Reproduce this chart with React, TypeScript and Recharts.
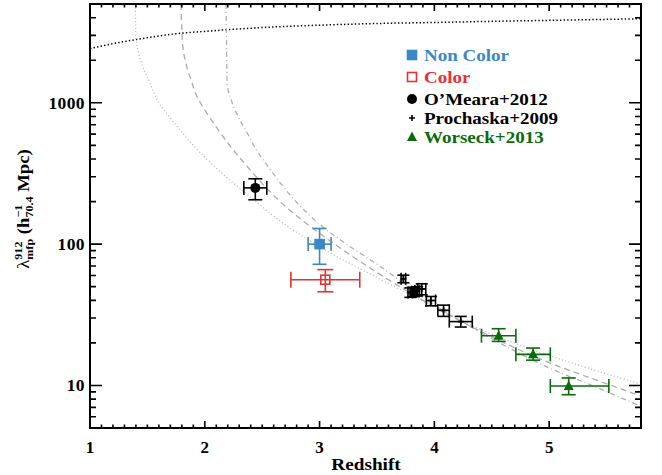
import React from 'react';
import { ComposedChart, Line, Scatter, ErrorBar, XAxis, YAxis } from 'recharts';

const W = 662;
const H = 475;
const FONT = '"Liberation Serif", "Times New Roman", serif';
const MARGIN = { top: 4, right: 21, bottom: 0, left: 0 };
const X_AXIS_H = 47;
const Y_AXIS_W = 90;
const PLOT_TOP = MARGIN.top;
const PLOT_RIGHT = W - MARGIN.right;
const PLOT_LEFT = MARGIN.left + Y_AXIS_W;
const PLOT_BOTTOM = H - MARGIN.bottom - X_AXIS_H;

// model curves: z = redshift, v = mean free path
const topModel = [
  { z: 1.0, v: 2420 }, { z: 1.2, v: 2620 }, { z: 1.4, v: 2800 }, { z: 1.6, v: 2970 },
  { z: 1.8, v: 3110 }, { z: 2.0, v: 3200 }, { z: 2.2, v: 3290 }, { z: 2.6, v: 3440 },
  { z: 3.0, v: 3540 }, { z: 3.5, v: 3640 }, { z: 4.0, v: 3700 }, { z: 4.5, v: 3770 },
  { z: 5.0, v: 3830 }, { z: 5.8, v: 3930 },
];
const dottedModel = [
  { z: 1.395, v: 5000 }, { z: 1.4, v: 2900 }, { z: 1.42, v: 2300 }, { z: 1.46, v: 1800 },
  { z: 1.52, v: 1400 }, { z: 1.57, v: 1110 }, { z: 1.69, v: 800 }, { z: 1.8, v: 620 },
  { z: 1.92, v: 480 }, { z: 2.1, v: 345 }, { z: 2.4, v: 215 }, { z: 2.65, v: 147 },
  { z: 3.0, v: 96 }, { z: 3.5, v: 58 }, { z: 4.0, v: 36 }, { z: 4.4, v: 25 },
  { z: 5.0, v: 16.3 }, { z: 5.4, v: 12.8 }, { z: 5.8, v: 10.2 },
];
const dashedModel = [
  { z: 1.792, v: 5000 }, { z: 1.8, v: 3300 }, { z: 1.806, v: 2650 }, { z: 1.836, v: 1910 },
  { z: 1.88, v: 1455 }, { z: 1.92, v: 1170 }, { z: 2.0, v: 890 }, { z: 2.08, v: 710 },
  { z: 2.2, v: 520 }, { z: 2.35, v: 370 }, { z: 2.47, v: 285 }, { z: 2.67, v: 195 },
  { z: 2.88, v: 141 }, { z: 3.08, v: 107 }, { z: 3.5, v: 63 }, { z: 4.0, v: 36 },
  { z: 4.4, v: 24.2 }, { z: 5.0, v: 14.5 }, { z: 5.4, v: 11 }, { z: 5.8, v: 8.4 },
];
const dashDotModel = [
  { z: 2.185, v: 5000 }, { z: 2.19, v: 2500 }, { z: 2.194, v: 1380 }, { z: 2.23, v: 1050 },
  { z: 2.29, v: 800 }, { z: 2.37, v: 611 }, { z: 2.44, v: 478 }, { z: 2.53, v: 374 },
  { z: 2.77, v: 210 }, { z: 3.0, v: 138 }, { z: 3.25, v: 98 }, { z: 3.5, v: 72 },
  { z: 4.0, v: 37 }, { z: 4.4, v: 23.8 }, { z: 5.0, v: 13.3 }, { z: 5.4, v: 9.8 },
  { z: 5.8, v: 7.1 },
];

// measurements: ex = redshift error, ey = [lower, upper] mfp error
const nonColor = [{ z: 3.0, v: 100, ex: 0.1, ey: [28, 29] }];
const color = [{ z: 3.05, v: 56, ex: 0.3, ey: [10, 10] }];
const omeara = [{ z: 2.44, v: 250, ex: 0.1, ey: [44, 40] }];
const prochaska = [
  { z: 3.73, v: 56.8, ex: 0.02, ey: [3.5, 3.5] },
  { z: 3.79, v: 45.5, ex: 0.02, ey: [3.5, 3.5] },
  { z: 3.82, v: 46, ex: 0.02, ey: [3.5, 3.5] },
  { z: 3.85, v: 46.5, ex: 0.02, ey: [3.5, 3.5] },
  { z: 3.89, v: 48.2, ex: 0.035, ey: [4.4, 4.2] },
  { z: 3.97, v: 39.9, ex: 0.04, ey: [3.3, 2.7] },
  { z: 4.08, v: 34, ex: 0.05, ey: [3.2, 3] },
  { z: 4.23, v: 28.3, ex: 0.1, ey: [2.4, 2.5] },
];
const worseck = [
  { z: 4.56, v: 22.5, ex: 0.15, ey: [2.0, 2.7] },
  { z: 4.86, v: 16.6, ex: 0.15, ey: [1.5, 1.8] },
  { z: 5.17, v: 9.9, ex: [0.16, 0.35], ey: [1.3, 1.4] },
];

const X_DOMAIN = [1, 5.8];
const Y_DOMAIN = [5, 5000];
const xMajor = [1, 2, 3, 4, 5];
const yMajor = [10, 100, 1000];

const BLUE = '#3a88c5';
const RED = '#e53232';
const GREEN = '#0a6b0a';

const xTicks: number[] = [];
for (let i = 0; i <= 48; i++) xTicks.push(Math.round((1 + i * 0.1) * 10) / 10);
const yTicks: number[] = [];
[1, 10, 100, 1000].forEach((d) => {
  for (let m = 1; m <= 9; m++) {
    const t = m * d;
    if (t >= 5 && t <= 5000) yTicks.push(t);
  }
});

const isMajorX = (v: number) => xMajor.includes(v);
const isMajorY = (v: number) => yMajor.includes(v);

// bottom tick also mirrors itself onto the top edge of the frame
const BottomTick = (props: any) => {
  const { x, y, payload } = props;
  const major = isMajorX(payload.value);
  const len = major ? 7 : 3.5;
  const top = y - (PLOT_BOTTOM - PLOT_TOP);
  return (
    <g>
      <path d={`M${x},${y}V${y - len}M${x},${top}V${top + len}`} stroke="#000" strokeWidth={1.6} fill="none" />
      {major && (
        <text x={x} y={y + 25} textAnchor="middle" fontSize={17} fontWeight="bold" fontFamily={FONT}>
          {payload.value}
        </text>
      )}
    </g>
  );
};
// left tick also mirrors itself onto the right edge
const LeftTick = (props: any) => {
  const { x, y, payload } = props;
  const major = isMajorY(payload.value);
  const len = major ? 12 : 6;
  const right = x + (PLOT_RIGHT - PLOT_LEFT);
  return (
    <g>
      <path d={`M${x},${y}H${x + len}M${right},${y}H${right - len}`} stroke="#000" strokeWidth={1.6} fill="none" />
      {major && (
        <text x={x - 5} y={y + 6} textAnchor="end" fontSize={17.5} fontWeight="bold" fontFamily={FONT} letterSpacing={0.4}>
          {payload.value}
        </text>
      )}
    </g>
  );
};

const square = (fill: string, stroke: string) => ({ cx, cy }: any) => (
  <rect x={cx - 4.5} y={cy - 4.5} width={9} height={9} fill={fill} stroke={stroke} strokeWidth={1.6} />
);
const dotShape = ({ cx, cy }: any) => <circle cx={cx} cy={cy} r={5} fill="#000" />;
const plusShape = ({ cx, cy }: any) => (
  <path d={`M${cx - 3},${cy}H${cx + 3}M${cx},${cy - 3}V${cy + 3}`} stroke="#000" strokeWidth={1.6} />
);
const triShape = ({ cx, cy }: any) => (
  <path d={`M${cx},${cy - 5.5}L${cx + 5},${cy + 4}L${cx - 5},${cy + 4}Z`} fill={GREEN} />
);

const legendItems = [
  { label: 'Non Color', color: BLUE, shape: square(BLUE, BLUE), y: 61 },
  { label: 'Color', color: RED, shape: square('none', RED), y: 83 },
  { label: 'O\u2019Meara+2012', color: '#000', shape: dotShape, y: 105 },
  { label: 'Prochaska+2009', color: '#000', shape: plusShape, y: 124 },
  { label: 'Worseck+2013', color: GREEN, shape: triShape, y: 143 },
];

const curve = (data: any[], stroke: string, dash: string, width = 1.3) => (
  <Line
    data={data}
    dataKey="v"
    type="monotone"
    stroke={stroke}
    strokeWidth={width}
    strokeDasharray={dash}
    dot={false}
    activeDot={false}
    isAnimationActive={false}
  />
);

const errs = (stroke: string, cap = 7) => [
  <ErrorBar key="ey" dataKey="ey" direction="y" stroke={stroke} strokeWidth={1.6} width={cap} />,
  <ErrorBar key="ex" dataKey="ex" direction="x" stroke={stroke} strokeWidth={1.6} width={cap} />,
];

export default function App() {
  return (
    <div style={{ position: 'absolute', left: 0, top: 0, width: W, height: H, background: '#fff' }}>
      <ComposedChart width={W} height={H} margin={MARGIN}>
        <XAxis
          dataKey="z"
          type="number"
          domain={X_DOMAIN}
          allowDataOverflow
          ticks={xTicks}
          interval={0}
          tick={<BottomTick />}
          tickLine={false}
          tickSize={0}
          tickMargin={0}
          height={X_AXIS_H}
          axisLine={{ stroke: '#000', strokeWidth: 2 }}
        />
        <YAxis
          type="number"
          scale="log"
          domain={Y_DOMAIN}
          allowDataOverflow
          ticks={yTicks}
          interval={0}
          tick={<LeftTick />}
          tickLine={false}
          tickSize={0}
          tickMargin={0}
          width={Y_AXIS_W}
          axisLine={{ stroke: '#000', strokeWidth: 2 }}
        />
        {curve(topModel, '#000', '1.4 2.2', 1.5)}
        {curve(dottedModel, '#b8b8b8', '1 2.4')}
        {curve(dashedModel, '#ababab', '6 4')}
        {curve(dashDotModel, '#b0b0b0', '5 3 1 3')}
        <Scatter data={color} dataKey="v" shape={square('none', RED)} isAnimationActive={false}>
          {errs(RED, 8)}
        </Scatter>
        <Scatter data={nonColor} dataKey="v" shape={square(BLUE, BLUE)} isAnimationActive={false}>
          {errs(BLUE, 7)}
        </Scatter>
        <Scatter data={omeara} dataKey="v" shape={dotShape} isAnimationActive={false}>
          {errs('#000', 7)}
        </Scatter>
        <Scatter data={prochaska} dataKey="v" shape={plusShape} isAnimationActive={false}>
          {errs('#000', 6)}
        </Scatter>
        <Scatter data={worseck} dataKey="v" shape={triShape} isAnimationActive={false}>
          {errs(GREEN, 7)}
        </Scatter>
      </ComposedChart>
      <svg width={W} height={H} style={{ position: 'absolute', left: 0, top: 0, pointerEvents: 'none' }}>
        {/* top and right edges of the frame */}
        <rect
          x={PLOT_LEFT}
          y={PLOT_TOP}
          width={PLOT_RIGHT - PLOT_LEFT}
          height={PLOT_BOTTOM - PLOT_TOP}
          fill="none"
          stroke="#000"
          strokeWidth={2}
        />
        {legendItems.map((it) => (
          <g key={it.label}>
            {it.shape({ cx: 412, cy: it.y - 6 })}
            <text
              transform={`translate(424 ${it.y}) scale(1.12 1)`}
              fill={it.color}
              fontSize={17}
              fontWeight="bold"
              fontFamily={FONT}
            >
              {it.label}
            </text>
          </g>
        ))}
        <text
          transform="translate(366 470) scale(1.1 1)"
          textAnchor="middle"
          fontSize={17.5}
          fontWeight="bold"
          fontFamily={FONT}
        >
          Redshift
        </text>
        <text
          transform="translate(29 209) rotate(-90) scale(1.1 1)"
          textAnchor="middle"
          fontSize={17}
          fontWeight="bold"
          fontFamily={FONT}
        >
          <tspan fontWeight="normal">λ</tspan>
          <tspan dy={-7} fontSize={11}>912</tspan>
          <tspan dx={-16.5} dy={11} fontSize={11}>mfp</tspan>
          <tspan dy={-4}> (h</tspan>
          <tspan dy={-7} fontSize={11}>−1</tspan>
          <tspan dx={-11.8} dy={11} fontSize={11}>70.4</tspan>
          <tspan dy={-4}>{'  Mpc)'}</tspan>
        </text>
      </svg>
    </div>
  );
}
